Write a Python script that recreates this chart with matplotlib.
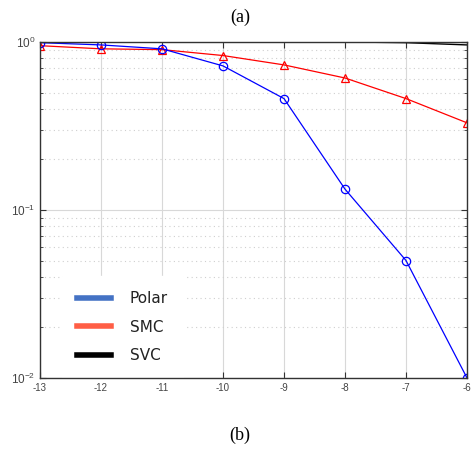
import numpy as np
import matplotlib.pyplot as plt
from matplotlib.lines import Line2D

# data
snr = [-13, -12, -11, -10, -9, -8, -7, -6]
polar = [0.99, 0.96, 0.91, 0.72, 0.46, 0.133, 0.050, 0.010]
smc = [0.95, 0.91, 0.90, 0.83, 0.73, 0.61, 0.46, 0.33]
svc = [1.0, 1.0, 1.0, 1.0, 1.0, 1.0, 0.99, 0.96]
legend_names = ['Polar', 'SMC', 'SVC']
legend_colors = ['#4472C4', '#FF5E45', 'black']

fig = plt.figure(figsize=(4.71, 4.51), dpi=100)
ax = fig.add_axes([0.085, 0.162, 0.9065, 0.745])

ax.semilogy(snr, svc, color='black', lw=1.0)
ax.semilogy(snr, smc, color='red', lw=0.9, marker='^', ms=6, mfc='none', mew=0.9)
ax.semilogy(snr, polar, color='blue', lw=0.9, marker='o', ms=6, mfc='none', mew=0.9)

ax.set_xlim(-13, -6)
ax.set_ylim(1e-2, 1)
ax.set_xticks(snr)
ax.set_xticklabels([str(v) for v in snr])

ax.grid(True, which='major', color='#d8d8d8', lw=0.8, ls='-')
ax.grid(True, which='minor', axis='y', color='#cfcfcf', lw=0.8, ls=(0, (1, 3)))
ax.set_axisbelow(True)

ax.tick_params(which='both', direction='in', top=True, right=True,
               colors='#333333', labelcolor='#444444')
ax.tick_params(axis='x', labelsize=7)
ax.tick_params(axis='y', labelsize=8.5)
ax.tick_params(which='major', length=4)
ax.tick_params(which='minor', length=2.5)
for lbl in ax.get_xticklabels() + ax.get_yticklabels():
    lbl.set_family('Liberation Sans')
for s in ax.spines.values():
    s.set_color('#333333')
    s.set_linewidth(1.0)

handles = [Line2D([0], [0], color=c, lw=4) for c in legend_colors]
leg = ax.legend(handles, legend_names, loc='lower left', bbox_to_anchor=(0.033, -0.025),
                frameon=True, fancybox=False, edgecolor='white', facecolor='white',
                framealpha=1, handlelength=2.2, handletextpad=1.25, labelspacing=0.9,
                borderpad=1.0, prop={'family': 'DejaVu Sans', 'size': 11})
leg.set_zorder(2.2)  # keep the axes spine and ticks on top of the legend box
for t in leg.get_texts():
    t.set_color('#222222')

fig.text(0.51, 0.962, '(a)', ha='center', va='center', family='Liberation Serif', fontsize=13)
fig.text(0.51, 0.035, '(b)', ha='center', va='center', family='Liberation Serif', fontsize=13)

fig.savefig('out.png', dpi=100)
